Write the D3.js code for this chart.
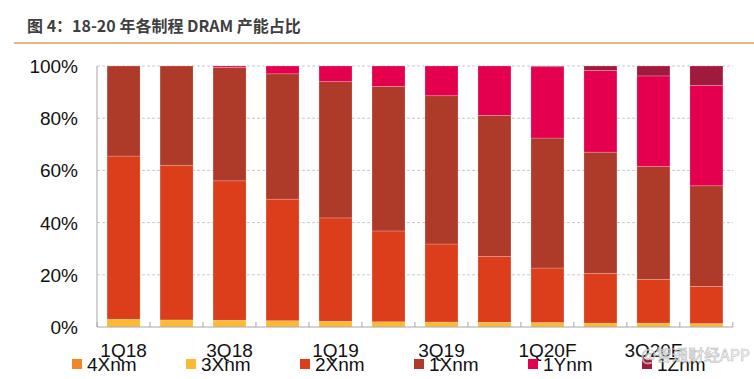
<!DOCTYPE html>
<html>
<head>
<meta charset="utf-8">
<script src="https://cdn.jsdelivr.net/npm/d3@7"></script>
<style>
  body { margin: 0; background: #fff; }
  svg { display: block; }
</style>
</head>
<body>
<div id="chart"></div>
<script>
// quarters and share (%) of each process node
var quarters = ["1Q18", "2Q18", "3Q18", "4Q18", "1Q19", "2Q19", "3Q19", "4Q19", "1Q20F", "2Q20F", "3Q20F", "4Q20F"];
var shownLabels = ["1Q18", "3Q18", "1Q19", "3Q19", "1Q20F", "3Q20F"];
var nodes = ["4Xnm", "3Xnm", "2Xnm", "1Xnm", "1Ynm", "1Znm"];
var share4X = [0, 0, 0, 0, 0, 0, 0, 0, 0, 0, 0, 0];
var share3X = [3.0, 2.7, 2.6, 2.4, 2.2, 2.0, 1.9, 1.8, 1.7, 1.5, 1.5, 1.3];
var share2X = [62.5, 59.3, 53.4, 46.6, 39.6, 34.8, 29.9, 25.3, 20.9, 19.1, 16.8, 14.3];
var share1X = [34.5, 38.0, 43.5, 48.0, 52.2, 55.4, 56.8, 54.0, 49.8, 46.4, 43.3, 38.5];
var share1Y = [0, 0, 0.5, 3.0, 6.0, 7.8, 11.4, 18.9, 27.3, 31.3, 34.6, 38.5];
var share1Z = [0, 0, 0, 0, 0, 0, 0, 0, 0.3, 1.7, 3.8, 7.4];
var yTicks = [0, 20, 40, 60, 80, 100];

var colors = {
  "4Xnm": "#f0862a",
  "3Xnm": "#fbba31",
  "2Xnm": "#dc3e1c",
  "1Xnm": "#ae3a29",
  "1Ynm": "#e4004e",
  "1Znm": "#a1193d"
};

var width = 754, height = 379;
var margin = { left: 97, right: 21, top: 66, bottom: 52 };

var svg = d3.select("#chart").append("svg")
  .attr("width", width)
  .attr("height", height);

// title + rule
svg.append("text")
  .attr("x", 27)
  .attr("y", 32)
  .attr("font-family", "'Noto Sans CJK SC', sans-serif")
  .attr("font-weight", "bold")
  .attr("font-size", 16)
  .attr("fill", "#3f3f3f")
  .text("图 4：18-20 年各制程 DRAM 产能占比");

svg.append("line")
  .attr("x1", 14).attr("x2", width)
  .attr("y1", 43).attr("y2", 43)
  .attr("stroke", "#dd9d5c")
  .attr("stroke-width", 1.5);

var rows = quarters.map(function (q, i) {
  return {
    quarter: q,
    "4Xnm": share4X[i], "3Xnm": share3X[i], "2Xnm": share2X[i],
    "1Xnm": share1X[i], "1Ynm": share1Y[i], "1Znm": share1Z[i]
  };
});

var x = d3.scaleBand()
  .domain(quarters)
  .range([margin.left, width - margin.right])
  .paddingInner(0.377)
  .paddingOuter(0.19);

var y = d3.scaleLinear()
  .domain([0, 100])
  .range([height - margin.bottom, margin.top]);

// gridlines
svg.append("g")
  .selectAll("line")
  .data(yTicks.filter(function (d) { return d > 0; }))
  .enter().append("line")
  .attr("x1", margin.left).attr("x2", width - margin.right)
  .attr("y1", function (d) { return y(d); })
  .attr("y2", function (d) { return y(d); })
  .attr("stroke", "#c9c9c9")
  .attr("stroke-dasharray", "3,2");

// y labels
svg.append("g")
  .selectAll("text")
  .data(yTicks)
  .enter().append("text")
  .attr("x", 78)
  .attr("y", function (d) { return y(d) + 7; })
  .attr("text-anchor", "end")
  .attr("font-family", "'Liberation Sans', Arial, sans-serif")
  .attr("font-size", 19)
  .attr("fill", "#111")
  .text(function (d) { return d + "%"; });

// stacked bars
var stack = d3.stack().keys(nodes);
var series = stack(rows);

svg.append("g")
  .selectAll("g")
  .data(series)
  .enter().append("g")
  .attr("fill", function (d) { return colors[d.key]; })
  .selectAll("rect")
  .data(function (d) { return d; })
  .enter().append("rect")
  .attr("x", function (d) { return x(d.data.quarter); })
  .attr("width", x.bandwidth())
  .attr("y", function (d) { return y(d[1]); })
  .attr("height", function (d) { return y(d[0]) - y(d[1]); })
  .attr("stroke", "rgba(255,255,255,0.35)")
  .attr("stroke-width", function (d) { return (d[1] - d[0]) > 0 ? 0.6 : 0; });

// axes lines
svg.append("line")
  .attr("x1", margin.left).attr("x2", margin.left)
  .attr("y1", y(100)).attr("y2", y(0))
  .attr("stroke", "#a6a6a6");

svg.append("line")
  .attr("x1", margin.left).attr("x2", width - margin.right)
  .attr("y1", y(0)).attr("y2", y(0))
  .attr("stroke", "#a6a6a6");

// ticks between categories
var step = x.step();
var tickPos = d3.range(quarters.length + 1).map(function (i) { return margin.left + i * step; });
svg.append("g")
  .selectAll("line")
  .data(tickPos)
  .enter().append("line")
  .attr("x1", function (d) { return d; })
  .attr("x2", function (d) { return d; })
  .attr("y1", y(0) - 5).attr("y2", y(0))
  .attr("stroke", "#a6a6a6");

// x labels
svg.append("g")
  .selectAll("text")
  .data(shownLabels)
  .enter().append("text")
  .attr("x", function (d) { return x(d) + x.bandwidth() / 2; })
  .attr("y", 357)
  .attr("text-anchor", "middle")
  .attr("font-family", "'Liberation Sans', Arial, sans-serif")
  .attr("font-size", 19)
  .attr("fill", "#111")
  .text(function (d) { return d; });

// legend
var legend = svg.append("g")
  .selectAll("g")
  .data(nodes)
  .enter().append("g")
  .attr("transform", function (d, i) { return "translate(" + (72 + i * 114) + ",359)"; });

legend.append("rect")
  .attr("width", 10).attr("height", 10)
  .attr("fill", function (d) { return colors[d]; });

legend.append("text")
  .attr("x", 15)
  .attr("y", 12)
  .attr("font-family", "'Liberation Sans', Arial, sans-serif")
  .attr("font-size", 19)
  .attr("fill", "#111")
  .text(function (d) { return d; });

// watermark
svg.append("text")
  .attr("x", 750)
  .attr("y", 361)
  .attr("text-anchor", "end")
  .attr("font-family", "'Noto Sans CJK SC', sans-serif")
  .attr("font-size", 16)
  .attr("fill", "#ffffff")
  .attr("fill-opacity", 0.6)
  .attr("stroke", "#bbbbbb")
  .attr("stroke-width", 0.6)
  .text("@智通财经APP");
</script>
</body>
</html>
